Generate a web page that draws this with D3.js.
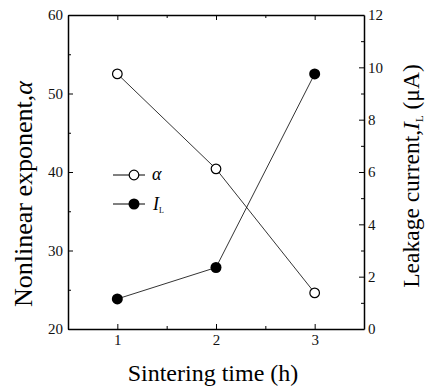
<!DOCTYPE html>
<html>
<head>
<meta charset="utf-8">
<script src="https://cdn.jsdelivr.net/npm/d3@7"></script>
<style>
  body { margin: 0; background: #fff; }
</style>
</head>
<body>
<script>
// sintering time (h)
const hours = [1, 2, 3];
// nonlinear exponent alpha (left axis)
const alpha = [52.5, 40.4, 24.6];
// leakage current I_L in uA (right axis)
const leakage = [1.15, 2.35, 9.75];

const xTicks = [1, 2, 3];
const leftTicks = [20, 30, 40, 50, 60];
const rightTicks = [0, 2, 4, 6, 8, 10, 12];

const FONT = "Liberation Serif";

const W = 432, H = 390;
const m = {left: 68, right: 68, top: 15, bottom: 61};

const svg = d3.select("body").append("svg")
    .attr("width", W)
    .attr("height", H);

const x = d3.scaleLinear().domain([0.5, 3.5]).range([m.left, W - m.right]);
const yL = d3.scaleLinear().domain([20, 60]).range([H - m.bottom, m.top]);
const yR = d3.scaleLinear().domain([0, 12]).range([H - m.bottom, m.top]);

const g = svg.append("g");

// axes: major ticks inward, minor ticks in between
function styleAxis(sel) {
    sel.attr("font-family", FONT).attr("font-size", 15);
    sel.select(".domain").attr("stroke", "#000").attr("stroke-width", 1.5);
    sel.selectAll(".tick line").attr("stroke", "#000").attr("stroke-width", 1);
    sel.selectAll(".tick text").attr("fill", "#111");
}

const axBottom = g.append("g")
    .attr("transform", "translate(0," + (H - m.bottom) + ")")
    .call(d3.axisBottom(x).tickValues(xTicks).tickFormat(d3.format("d")).tickSizeInner(-5).tickSizeOuter(0).tickPadding(5));
styleAxis(axBottom);
g.append("g")
    .attr("transform", "translate(0," + (H - m.bottom) + ")")
    .call(d3.axisBottom(x).tickValues([1.5, 2.5]).tickFormat("").tickSizeInner(-3).tickSizeOuter(0))
    .call(s => s.select(".domain").remove());

const axTop = g.append("g")
    .attr("transform", "translate(0," + m.top + ")")
    .call(d3.axisTop(x).tickValues(xTicks).tickFormat("").tickSizeInner(-5).tickSizeOuter(0));
styleAxis(axTop);
g.append("g")
    .attr("transform", "translate(0," + m.top + ")")
    .call(d3.axisTop(x).tickValues([1.5, 2.5]).tickFormat("").tickSizeInner(-3).tickSizeOuter(0))
    .call(s => s.select(".domain").remove());

const axLeft = g.append("g")
    .attr("transform", "translate(" + m.left + ",0)")
    .call(d3.axisLeft(yL).tickValues(leftTicks).tickSizeInner(-5).tickSizeOuter(0).tickPadding(5));
styleAxis(axLeft);
g.append("g")
    .attr("transform", "translate(" + m.left + ",0)")
    .call(d3.axisLeft(yL).tickValues([25, 35, 45, 55]).tickFormat("").tickSizeInner(-3).tickSizeOuter(0))
    .call(s => s.select(".domain").remove());

const axRight = g.append("g")
    .attr("transform", "translate(" + (W - m.right) + ",0)")
    .call(d3.axisRight(yR).tickValues(rightTicks).tickSizeInner(-5).tickSizeOuter(0).tickPadding(4));
styleAxis(axRight);
g.append("g")
    .attr("transform", "translate(" + (W - m.right) + ",0)")
    .call(d3.axisRight(yR).tickValues([1, 3, 5, 7, 9, 11]).tickFormat("").tickSizeInner(-3).tickSizeOuter(0))
    .call(s => s.select(".domain").remove());

// series
const lineA = d3.line().x((d, i) => x(hours[i])).y(d => yL(d));
const lineI = d3.line().x((d, i) => x(hours[i])).y(d => yR(d));

g.append("path").attr("d", lineA(alpha)).attr("fill", "none").attr("stroke", "#000").attr("stroke-width", 0.8);
g.append("path").attr("d", lineI(leakage)).attr("fill", "none").attr("stroke", "#000").attr("stroke-width", 0.8);

g.selectAll("circle.a").data(alpha).enter().append("circle")
    .attr("class", "a")
    .attr("cx", (d, i) => x(hours[i])).attr("cy", d => yL(d))
    .attr("r", 4.8).attr("fill", "#fff").attr("stroke", "#000").attr("stroke-width", 1.2);

g.selectAll("circle.i").data(leakage).enter().append("circle")
    .attr("class", "i")
    .attr("cx", (d, i) => x(hours[i])).attr("cy", d => yR(d))
    .attr("r", 5.5).attr("fill", "#000");

// legend
const leg = g.append("g").attr("transform", "translate(113,175)").attr("font-family", FONT);
leg.append("line").attr("x1", 0).attr("x2", 32).attr("y1", 0).attr("y2", 0).attr("stroke", "#000");
leg.append("circle").attr("cx", 21).attr("cy", 0).attr("r", 4.8).attr("fill", "#fff").attr("stroke", "#000").attr("stroke-width", 1.2);
leg.append("text").attr("x", 39).attr("y", 5).attr("font-size", 18).attr("font-style", "italic").text("α");

leg.append("line").attr("x1", 0).attr("x2", 32).attr("y1", 29).attr("y2", 29).attr("stroke", "#000");
leg.append("circle").attr("cx", 21).attr("cy", 29).attr("r", 5.5).attr("fill", "#000");
const il = leg.append("text").attr("x", 40).attr("y", 35).attr("font-size", 18);
il.append("tspan").attr("font-style", "italic").text("I");
il.append("tspan").attr("dy", 3).attr("font-size", 8).text("L");

// axis titles
svg.append("text")
    .attr("x", 213).attr("y", 381)
    .attr("font-family", FONT)
    .attr("text-anchor", "middle").attr("font-size", 24)
    .text("Sintering time (h)");

const tl = svg.append("text")
    .attr("transform", "translate(32,194) rotate(-90)")
    .attr("font-family", FONT)
    .attr("text-anchor", "middle").attr("font-size", 26);
tl.append("tspan").text("Nonlinear exponent,");
tl.append("tspan").attr("font-style", "italic").text("α");

const tr = svg.append("text")
    .attr("transform", "translate(419,176) rotate(-90)")
    .attr("font-family", FONT)
    .attr("text-anchor", "middle").attr("font-size", 23.5);
tr.append("tspan").text("Leakage current,");
tr.append("tspan").attr("font-style", "italic").text("I");
tr.append("tspan").attr("dy", 4).attr("font-size", 11).text("L");
tr.append("tspan").attr("dy", -4).text(" (μA)");
</script>
</body>
</html>
